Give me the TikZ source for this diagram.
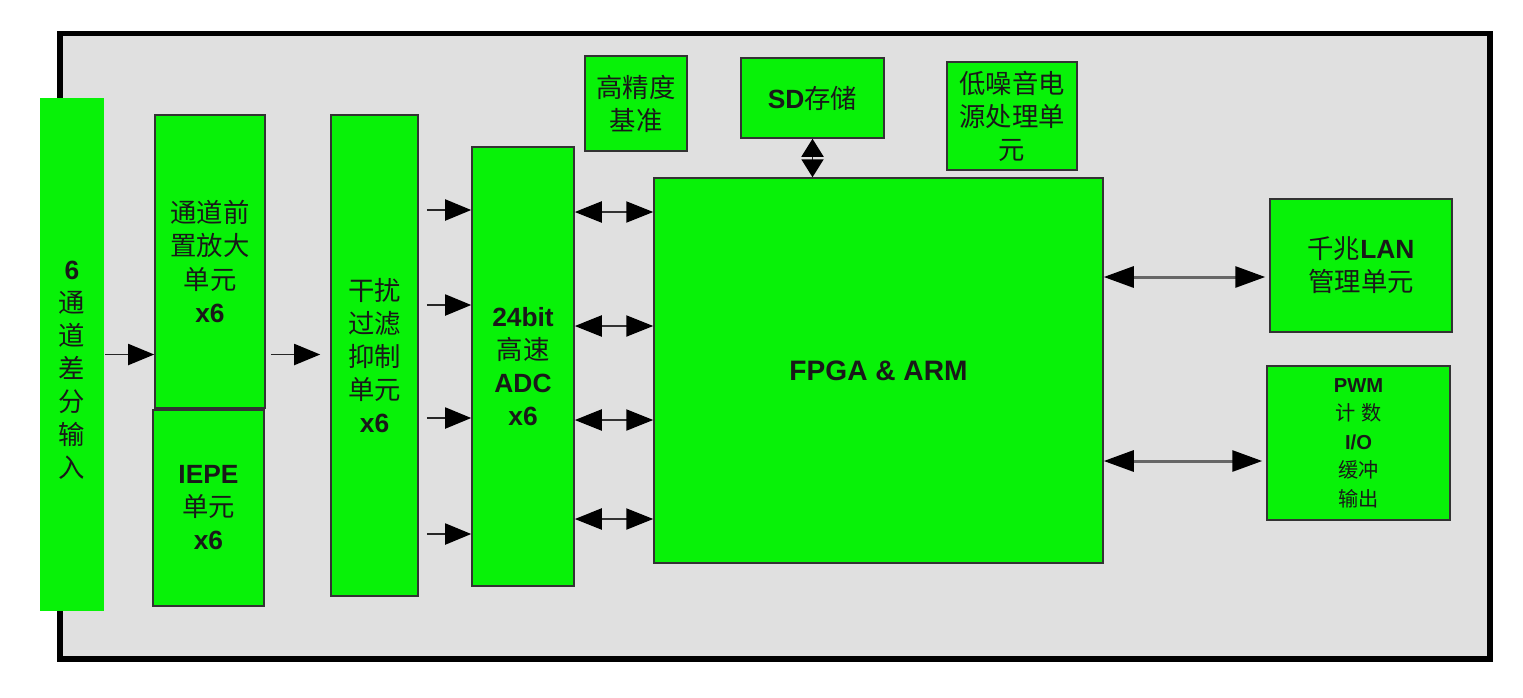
\documentclass[tikz,border=0pt]{standalone}
\usepackage{fontspec}
\setmainfont{Liberation Sans}
\newfontfamily\zhfont{Noto Sans CJK SC}
\newcommand{\zh}[1]{{\zhfont #1}}
\definecolor{boxgreen}{RGB}{8,242,8}
\definecolor{panelgray}{RGB}{224,224,224}
\usetikzlibrary{arrows.meta,positioning}

\begin{document}
\begin{tikzpicture}[x=0.02cm, y=-0.02cm,
    block/.style={draw=black!80, line width=0.9pt, fill=boxgreen, inner sep=0pt,
                  align=center, text=black!90, font=\fontsize{15}{18.8}\selectfont},
    small/.style={font=\fontsize{11.5}{16.2}\selectfont},
    tip/.style={Triangle[length=0.52cm, width=0.42cm, color=black]},
    link/.style={draw=black!85, line width=1.1pt, -{Triangle[length=0.52cm, width=0.42cm, color=black]}},
    dlink/.style={draw=black!80, line width=1.2pt,
                  {Triangle[length=0.54cm, width=0.42cm, color=black]}-{Triangle[length=0.54cm, width=0.42cm, color=black]}},
    longlink/.style={draw=black!60, line width=1.7pt,
                  {Triangle[length=0.6cm, width=0.42cm, color=black]}-{Triangle[length=0.6cm, width=0.42cm, color=black]}}]
    \useasboundingbox (0,0) rectangle (1523,697);

    % Panel
    \draw[line width=3.4pt, fill=panelgray] (60,33.5) rectangle (1490,659);

    % Input column
    \node[block, draw=none, minimum width=1.28cm, minimum height=10.26cm] (inp) at (72,354.5) {};
    \node[align=center, inner sep=0pt, text=black!90, font=\fontsize{15}{18.8}\selectfont] (inplabel) at (72,370)
      {\textbf{6}\\\zh{通}\\\zh{道}\\\zh{差}\\\zh{分}\\\zh{输}\\\zh{入}};

    % Front end
    \node[block, minimum width=2.2cm, minimum height=5.86cm] (pre) at (210,261.5)
      {\zh{通道前}\\\zh{置放大}\\\zh{单元}\\\textbf{x6}};
    \node[block, minimum width=2.22cm, minimum height=3.92cm] (iepe) at (208.5,508)
      {\textbf{IEPE}\\\zh{单元}\\\textbf{x6}};
    \node[block, minimum width=1.74cm, minimum height=9.62cm] (filt) at (374.5,355.5)
      {\zh{干扰}\\\zh{过滤}\\\zh{抑制}\\\zh{单元}\\\textbf{x6}};
    \node[block, minimum width=2.04cm, minimum height=8.78cm] (adc) at (523,366.5)
      {\textbf{24bit}\\\zh{高速}\\\textbf{ADC}\\\textbf{x6}};

    % Top row
    \node[block, minimum width=2.04cm, minimum height=1.9cm] (ref) at (636,103.5)
      {\zh{高精度}\\\zh{基准}};
    \node[block, minimum width=2.86cm, minimum height=1.6cm] (sd) at (812.5,98)
      {\textbf{SD}\zh{存储}};
    \node[block, minimum width=2.6cm, minimum height=2.16cm] (pwr) at (1012,116)
      {\zh{低噪音电}\\\zh{源处理单}\\\zh{元}};

    % Core
    \node[block, minimum width=8.98cm, minimum height=7.7cm, font=\fontsize{16}{19}\selectfont] (fpga) at (878.5,370.5)
      {\textbf{FPGA \& ARM}};

    % Right side
    \node[block, minimum width=3.64cm, minimum height=2.66cm] (lan) at (1361,265.5)
      {\zh{千兆}\textbf{LAN}\\\zh{管理单元}};
    \node[block, small, minimum width=3.66cm, minimum height=3.08cm] (pwm) at (1358.5,443)
      {\textbf{PWM}\\\zh{计}~\zh{数}\\\textbf{I/O}\\\zh{缓冲}\\\zh{输出}};

    % Signal chain
    \draw[link] (inp.east) -- (inp.east -| pre.west);
    \draw[link, shorten <=0.1cm, shorten >=0.2cm] (pre.east |- inp.east) -- (filt.west |- inp.east);
    \foreach \yy in {210,305,418,534}
      \draw[link, shorten <=0.16cm] (filt.east |- 0,\yy) -- (adc.west |- 0,\yy);
    \foreach \yy in {212,326,420,519}
      \draw[dlink] (adc.east |- 0,\yy) -- (fpga.west |- 0,\yy);

    % Storage and I/O
    \draw[draw=black!85, line width=1.1pt,
          {Triangle[length=0.36cm, width=0.44cm, color=black]}-{Triangle[length=0.36cm, width=0.44cm, color=black]}]
      (sd.south) -- (sd.south |- fpga.north);
    \draw[longlink, shorten >=0.08cm] (fpga.east |- 0,277) -- (lan.west |- 0,277);
    \draw[longlink, shorten >=0.08cm] (fpga.east |- 0,461) -- (pwm.west |- 0,461);
\end{tikzpicture}
\end{document}
